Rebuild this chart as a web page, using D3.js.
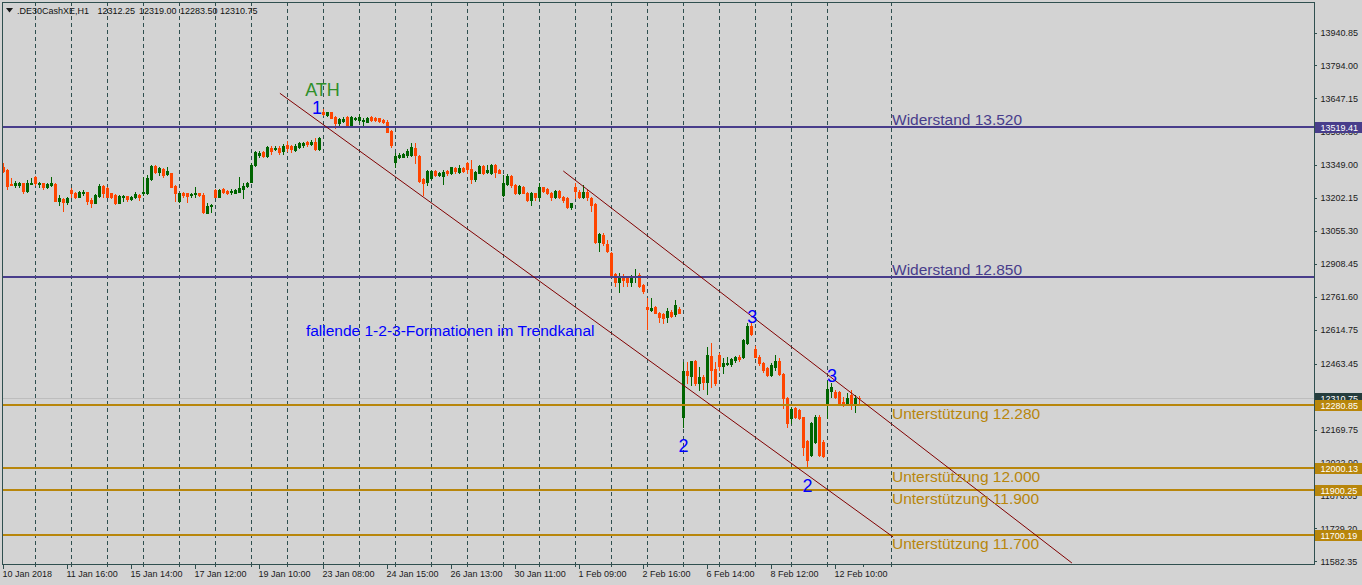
<!DOCTYPE html>
<html><head><meta charset="utf-8">
<script src="https://cdn.jsdelivr.net/npm/d3@7/dist/d3.min.js"></script>
<style>
html,body{margin:0;padding:0;background:#d3d3d3;overflow:hidden}
svg{display:block}
text{font-family:"Liberation Sans",Arial,sans-serif}
</style></head><body>
<svg id="c" width="1362" height="585"></svg>
<script>
// ---------- DATA ----------
const symbolInfo = ".DE30CashXE,H1";
const headerValues = ["12312.25","12319.00","12283.50","12310.75"];

const open = [
13342.3,13327.6,13263.8,13259.4,13259.4,13268.3,13235.3,13266.5,13295.0,13263.8,
13268.3,13250.5,13259.4,13265.2,13190.7,13199.6,13183.5,13238.4,13226.4,13208.5,
13223.7,13228.2,13193.8,13181.8,13213.0,13256.2,13246.0,13223.7,13216.1,13181.8,
13208.5,13211.7,13196.9,13205.9,13216.1,13223.7,13223.7,13286.1,13345.4,13320.0,
13332.1,13309.8,13312.8,13256.2,13190.7,13226.4,13223.7,13214.9,13219.2,13223.7,
13216.1,13137.2,13167.0,13238.4,13208.5,13241.5,13235.3,13228.2,13226.4,13230.8,
13242.9,13256.2,13275.4,13350.0,13394.5,13406.5,13391.4,13427.1,13421.3,13427.1,
13412.3,13439.1,13436.0,13416.8,13431.5,13439.1,13451.2,13443.6,13453.8,13421.3,
13584.9,13572.9,13584.9,13565.3,13535.9,13547.5,13565.3,13528.3,13555.0,13550.6,
13547.5,13543.0,13565.3,13560.9,13558.2,13550.6,13543.0,13501.5,13364.6,13386.9,
13386.9,13393.1,13394.5,13424.4,13390.0,13286.1,13275.4,13290.6,13323.1,13305.3,
13300.8,13324.5,13312.8,13337.9,13320.0,13335.2,13360.2,13330.7,13286.1,13315.6,
13345.4,13320.0,13315.6,13350.0,13327.6,13216.1,13265.2,13300.8,13260.7,13223.7,
13253.1,13226.4,13193.8,13223.7,13205.9,13250.5,13241.5,13226.4,13205.9,13233.9,
13208.5,13201.4,13161.3,13250.5,13230.8,13205.9,13230.8,13201.4,13175.9,13007.8,
13037.7,12997.6,12958.8,12863.8,12829.4,12844.6,12844.6,12829.4,12848.9,12859.3,
12814.7,12715.2,12703.2,12717.9,12691.2,12685.4,12671.5,12695.6,12685.4,12706.3,
12224.6,12432.5,12408.8,12475.7,12376.3,12405.7,12383.4,12498.0,12438.7,12502.5,
12453.4,12461.0,12461.0,12480.2,12492.2,12492.2,12554.7,12632.0,12527.9,12494.9,
12468.2,12443.2,12413.3,12450.5,12477.1,12417.8,12309.4,12220.2,12264.8,12257.2,
12224.6,12120.3,12056.5,12115.8,12227.3,12115.8,12279.5,12343.3,12338.8,12338.8,
12294.2,12284.0,12324.1,12284.0,12312.25];

const high = [
13357.5,13332.1,13290.6,13279.9,13275.4,13271.0,13283.0,13290.6,13300.8,13275.4,
13271.0,13268.3,13297.7,13268.3,13216.1,13204.1,13208.5,13246.0,13230.8,13235.3,
13238.4,13230.8,13201.4,13219.2,13265.2,13260.7,13250.5,13226.4,13220.6,13216.1,
13216.1,13213.0,13211.7,13230.8,13219.2,13297.7,13305.3,13350.0,13351.3,13342.3,
13335.2,13339.7,13315.6,13260.7,13226.4,13230.8,13226.4,13226.4,13250.5,13226.4,
13223.7,13179.1,13175.9,13241.5,13241.5,13246.0,13238.4,13241.5,13241.5,13295.0,
13268.3,13272.7,13357.5,13412.3,13412.3,13412.3,13436.0,13436.0,13436.0,13436.0,
13442.2,13457.0,13439.1,13442.2,13451.2,13453.8,13457.0,13461.4,13469.0,13473.4,
13598.3,13587.6,13587.6,13569.8,13558.2,13565.3,13569.8,13569.8,13565.3,13576.0,
13560.9,13565.3,13569.8,13565.3,13560.9,13555.0,13550.6,13506.0,13404.8,13404.8,
13402.0,13419.9,13446.7,13446.7,13394.5,13290.6,13327.6,13327.6,13327.6,13320.0,
13327.6,13327.6,13342.3,13342.3,13350.0,13342.3,13364.6,13372.2,13324.5,13350.0,
13350.0,13350.0,13354.4,13354.4,13330.7,13305.3,13309.8,13305.3,13265.2,13260.7,
13256.2,13230.8,13230.8,13226.4,13268.3,13253.1,13246.0,13230.8,13238.4,13238.4,
13211.7,13205.9,13181.8,13268.3,13238.4,13260.7,13238.4,13208.5,13179.1,13048.0,
13045.3,13015.4,12963.2,12866.9,12866.9,12863.8,12854.8,12859.3,12884.7,12869.6,
12819.2,12755.4,12755.4,12721.0,12695.6,12691.2,12710.8,12703.2,12747.8,12717.9,
12472.6,12472.6,12477.1,12480.2,12450.5,12413.3,12539.5,12554.7,12472.6,12510.1,
12487.8,12494.9,12487.8,12498.0,12502.5,12572.5,12643.9,12651.0,12542.6,12502.5,
12472.6,12450.5,12465.5,12502.5,12487.8,12420.9,12316.5,12269.3,12269.3,12260.3,
12227.3,12123.4,12205.0,12235.0,12235.0,12123.4,12391.0,12379.0,12346.4,12343.3,
12316.5,12331.7,12346.4,12324.1,12319.0];

const low = [
13320.0,13241.6,13259.4,13250.5,13253.1,13223.7,13230.8,13265.2,13260.7,13250.5,
13242.9,13248.7,13256.2,13188.4,13171.5,13146.1,13175.9,13208.5,13204.1,13205.9,
13216.1,13175.9,13164.3,13179.1,13208.5,13208.5,13205.9,13201.4,13175.9,13179.1,
13190.7,13190.7,13193.8,13201.4,13193.8,13216.1,13220.6,13283.0,13315.6,13305.3,
13297.7,13305.3,13250.5,13190.7,13186.2,13208.5,13183.5,13208.5,13208.5,13213.0,
13134.5,13134.5,13141.6,13205.9,13205.9,13226.4,13220.6,13219.2,13223.7,13228.2,
13201.4,13250.5,13272.7,13345.4,13386.9,13386.9,13386.9,13397.1,13416.8,13397.1,
13397.1,13412.3,13406.5,13412.3,13427.1,13431.5,13436.0,13439.1,13416.8,13416.8,
13572.9,13569.8,13558.2,13513.6,13528.3,13543.0,13520.7,13525.2,13550.6,13543.0,
13528.3,13540.4,13546.1,13546.1,13540.4,13535.9,13495.7,13431.5,13342.3,13379.7,
13384.2,13386.9,13390.0,13357.5,13275.4,13216.1,13260.7,13286.1,13300.8,13300.8,
13265.2,13305.3,13309.8,13315.6,13312.8,13320.0,13312.8,13268.3,13279.9,13312.8,
13309.8,13315.6,13309.8,13295.0,13312.8,13211.7,13260.7,13253.1,13220.6,13220.6,
13223.7,13190.7,13171.5,13193.8,13193.8,13230.8,13220.6,13193.8,13201.4,13201.4,
13186.2,13156.7,13155.0,13201.4,13201.4,13201.4,13193.8,13146.1,13003.4,12967.7,
12993.1,12963.2,12854.8,12810.2,12784.8,12810.2,12810.2,12810.2,12829.4,12807.1,
12777.7,12618.5,12700.1,12688.5,12651.0,12643.9,12651.0,12673.3,12676.4,12688.5,
12182.7,12376.3,12368.7,12368.7,12346.4,12349.5,12328.6,12361.1,12368.7,12435.6,
12423.6,12457.9,12453.4,12472.6,12477.1,12487.8,12551.5,12591.7,12492.2,12457.9,
12428.0,12408.8,12408.8,12435.6,12413.3,12264.8,12182.7,12197.9,12220.2,12215.7,
12056.5,12004.3,12052.0,12108.7,12052.0,12049.0,12220.2,12316.5,12309.4,12279.5,
12275.0,12279.5,12260.3,12249.6,12283.5];

const close = [
13324.5,13257.6,13259.4,13268.3,13268.3,13235.3,13271.0,13269.6,13268.3,13269.6,
13250.5,13263.8,13268.3,13190.7,13201.4,13186.2,13201.4,13223.7,13208.5,13230.8,
13229.5,13190.7,13181.8,13216.1,13256.2,13226.4,13208.5,13208.5,13181.8,13211.7,
13213.0,13196.9,13208.5,13219.2,13205.9,13230.8,13293.2,13345.4,13320.0,13335.2,
13305.3,13324.5,13253.1,13226.4,13223.7,13216.1,13211.7,13220.6,13226.4,13216.1,
13138.9,13167.0,13171.5,13208.5,13238.4,13230.8,13223.7,13232.6,13237.1,13246.0,
13256.2,13268.3,13350.0,13406.5,13402.0,13391.4,13431.5,13412.3,13427.1,13409.2,
13436.0,13424.4,13421.3,13436.0,13446.7,13446.7,13442.2,13453.8,13421.3,13469.0,
13576.0,13584.9,13560.9,13535.9,13553.7,13553.7,13528.3,13565.3,13560.9,13565.3,
13550.6,13560.9,13550.6,13550.6,13547.5,13543.0,13498.4,13439.1,13390.0,13394.5,
13399.0,13413.7,13428.9,13394.5,13279.9,13271.0,13323.1,13323.1,13305.3,13312.8,
13320.0,13312.8,13339.7,13323.1,13335.2,13323.1,13330.7,13286.1,13320.0,13345.4,
13315.6,13327.6,13350.0,13320.0,13315.6,13271.0,13300.8,13260.7,13223.7,13256.2,
13226.4,13193.8,13226.4,13205.9,13250.5,13235.3,13223.7,13208.5,13233.9,13205.9,
13193.8,13164.3,13179.1,13235.3,13205.9,13230.8,13208.5,13171.5,13007.8,13042.2,
13000.7,12967.7,12859.3,12829.4,12844.6,12837.0,12829.4,12851.7,12854.8,12810.2,
12789.3,12706.3,12713.5,12691.2,12673.3,12666.2,12700.1,12676.4,12725.5,12691.2,
12432.5,12413.3,12475.7,12376.3,12403.0,12383.4,12502.5,12435.6,12376.3,12453.4,
12465.5,12465.5,12483.3,12492.2,12483.3,12569.4,12632.0,12596.2,12494.9,12465.5,
12435.6,12413.3,12457.9,12477.1,12417.8,12309.4,12197.9,12260.3,12227.3,12220.2,
12093.5,12034.2,12200.6,12227.3,12056.5,12052.0,12352.2,12358.8,12316.5,12287.1,
12287.1,12309.4,12287.1,12312.1,12310.75];

const priceTicks = [13940.85,13794.00,13647.15,13500.30,13349.00,13202.15,13055.30,12908.45,
  12761.60,12614.75,12463.45,12316.75,12169.75,12022.90,11876.05,11729.20,11582.35];

const timeLabels = ["10 Jan 2018","11 Jan 16:00","15 Jan 14:00","17 Jan 12:00","19 Jan 10:00",
  "23 Jan 08:00","24 Jan 15:00","26 Jan 13:00","30 Jan 11:00","1 Feb 09:00","2 Feb 16:00",
  "6 Feb 14:00","8 Feb 12:00","12 Feb 10:00"];
const barsPerLabel = 16;
const barsPerGrid = 9;

const levelPrices = [13519.41, 12850.00, 12280.85, 12000.13, 11900.25, 11700.19];
const levelNames  = ["Widerstand 13.520","Widerstand 12.850","Unterstützung 12.280",
  "Unterstützung 12.000","Unterstützung 11.900","Unterstützung 11.700"];
const levelKinds  = ["res","res","sup","sup","sup","sup"];
const levelTagged = [true,false,true,true,true,true];
const bidPrice = 12310.75;

// trend channel: [bar index, price]
const trendLower = [[69.1,13669.7],[222.4,11690.8]];
const trendUpper = [[139.95,13323.1],[267.1,11574.8]];

// annotations: text, bar (center), price (baseline)
const annoText  = ["ATH","1","2","3","3","2"];
const annoBar   = [79.75,78.4,170.0,187.2,207.1,201.0];
const annoPrice = [13657.6,13577.4,12071.3,12646.1,12383.4,11891.5];
const annoColor = ["#2f8f2a","#0000ff","#0000ff","#0000ff","#0000ff","#0000ff"];
const noteText = "fallende 1-2-3-Formationen im Trendkanal";
const noteBar = 75.6, notePrice = 12587.2;

// ---------- DRAW ----------
const W = 1362, H = 585;
const L = 2, T = 2, R = 1314, B = 564;
const svg = d3.select("#c");
const n = open.length;

const x = d3.scaleLinear().domain([0, n - 1]).range([3.5, 3.5 + 4 * (n - 1)]);
const y = d3.scaleLinear().domain([11582.35, 13940.85]).range([561.3, 32.5]);

svg.append("rect").attr("width", W).attr("height", H).attr("fill", "#d3d3d3");

svg.append("defs").append("clipPath").attr("id", "plot")
  .append("rect").attr("x", L + 1).attr("y", T + 1).attr("width", R - L - 1).attr("height", B - T - 1);

const plot = svg.append("g").attr("clip-path", "url(#plot)");

// vertical grid
const gridBars = d3.range(8, n, barsPerGrid).concat([222]);
plot.append("g").selectAll("line").data(gridBars).join("line")
  .attr("x1", d => x(d)).attr("x2", d => x(d))
  .attr("y1", T).attr("y2", B)
  .attr("stroke", "#2f4f4f").attr("stroke-width", 1)
  .attr("stroke-dasharray", "4,3").attr("shape-rendering", "crispEdges");

// bid line
plot.append("line").attr("x1", L).attr("x2", R)
  .attr("y1", Math.round(y(bidPrice)) + 0.5).attr("y2", Math.round(y(bidPrice)) + 0.5)
  .attr("stroke", "#bdbdbd").attr("stroke-width", 1).attr("shape-rendering", "crispEdges");

// candles
const idx = d3.range(n);
const up = i => close[i] >= open[i];
const cg = plot.append("g").attr("shape-rendering", "crispEdges");
cg.selectAll("rect.w").data(idx).join("rect").attr("class", "w")
  .attr("x", i => x(i) - 0.5).attr("width", 1)
  .attr("y", i => Math.round(y(high[i])))
  .attr("height", i => Math.max(1, Math.round(y(low[i])) - Math.round(y(high[i])) + 1))
  .attr("fill", i => up(i) ? "#006400" : "#ff4500");
cg.selectAll("rect.b").data(idx).join("rect").attr("class", "b")
  .attr("x", i => x(i) - 1.5).attr("width", 3)
  .attr("y", i => Math.round(y(Math.max(open[i], close[i]))))
  .attr("height", i => Math.max(1, Math.round(y(Math.min(open[i], close[i]))) - Math.round(y(Math.max(open[i], close[i]))) + 1))
  .attr("fill", i => up(i) ? "#006400" : "#ff4500");

// horizontal levels
const lv = d3.range(levelPrices.length);
plot.append("g").selectAll("line").data(lv).join("line")
  .attr("x1", L).attr("x2", R)
  .attr("y1", i => Math.round(y(levelPrices[i]))).attr("y2", i => Math.round(y(levelPrices[i])))
  .attr("stroke", i => levelKinds[i] === "res" ? "#483d8b" : "#b8860b")
  .attr("stroke-width", 2).attr("shape-rendering", "crispEdges");

// trend lines
const line = d3.line().x(d => x(d[0])).y(d => y(d[1]));
[trendLower, trendUpper].forEach(t => {
  plot.append("path").attr("d", line(t)).attr("fill", "none")
    .attr("stroke", "#800000").attr("stroke-width", 1);
});

// level labels
plot.append("g").selectAll("text").data(lv).join("text")
  .attr("x", x(222) + 0.5)
  .attr("y", i => Math.round(y(levelPrices[i])) + (levelKinds[i] === "res" ? -2 : 14))
  .attr("font-size", "15.5px")
  .attr("fill", i => levelKinds[i] === "res" ? "#483d8b" : "#b8860b")
  .text(i => levelNames[i]);

// annotations
plot.append("g").selectAll("text").data(annoText).join("text")
  .attr("x", (d, i) => x(annoBar[i])).attr("y", (d, i) => y(annoPrice[i]))
  .attr("text-anchor", "middle").attr("font-size", "18px")
  .attr("fill", (d, i) => annoColor[i]).text(d => d);

plot.append("text").attr("x", x(noteBar)).attr("y", y(notePrice))
  .attr("font-size", "15.5px").attr("fill", "#0000ff").text(noteText);

// frame
svg.append("path")
  .attr("d", `M${L + 0.5},${B + 0.5}V${T + 0.5}H${R + 0.5}V${B + 0.5}H${L + 0.5}`)
  .attr("fill", "none").attr("stroke", "#2f4f4f").attr("stroke-width", 1)
  .attr("shape-rendering", "crispEdges");

// header
svg.append("path").attr("d", "M6,8H13L9.5,12.5Z").attr("fill", "#1a1a1a");
svg.append("text").attr("x", 17).attr("y", 14).attr("font-size", "9px").attr("fill", "#111").text(symbolInfo);
const hx = [97.5, 139, 180, 220];
svg.append("g").selectAll("text").data(headerValues).join("text")
  .attr("x", (d, i) => hx[i]).attr("y", 14).attr("font-size", "9px").attr("fill", "#111").text(d => d);

// price axis
const pa = svg.append("g");
pa.selectAll("line").data(priceTicks).join("line")
  .attr("x1", R).attr("x2", R + 3)
  .attr("y1", d => Math.round(y(d)) + 0.5).attr("y2", d => Math.round(y(d)) + 0.5)
  .attr("stroke", "#2f4f4f").attr("shape-rendering", "crispEdges");
pa.selectAll("text").data(priceTicks).join("text")
  .attr("x", R + 6.5).attr("y", d => y(d) + 3.3)
  .attr("font-size", "9px").attr("fill", "#1a1a1a")
  .text(d => d.toFixed(2));

// tag boxes
function tag(price, color) {
  const yy = Math.round(y(price));
  pa.append("rect").attr("x", R + 1).attr("y", yy - 5).attr("width", W - R - 1).attr("height", 11)
    .attr("fill", color).attr("shape-rendering", "crispEdges");
  pa.append("text").attr("x", R + 6.5).attr("y", yy + 4)
    .attr("font-size", "9px").attr("fill", "#ffffff").text(price.toFixed(2));
}
tag(bidPrice, "#243c3c");
lv.filter(i => levelTagged[i]).forEach(i => tag(levelPrices[i], levelKinds[i] === "res" ? "#483d8b" : "#b8860b"));

// time axis
const ta = svg.append("g");
const gridTickBars = d3.range(8, n + 9, barsPerGrid).concat([222]);
ta.selectAll("line.g").data(gridTickBars).join("line").attr("class", "g")
  .attr("x1", d => x(d)).attr("x2", d => x(d)).attr("y1", B).attr("y2", B + 3)
  .attr("stroke", "#2f4f4f").attr("shape-rendering", "crispEdges");
const labelBars = timeLabels.map((d, k) => k * barsPerLabel);
ta.selectAll("line.m").data(labelBars).join("line").attr("class", "m")
  .attr("x1", d => x(d)).attr("x2", d => x(d)).attr("y1", B).attr("y2", B + 5)
  .attr("stroke", "#2f4f4f").attr("shape-rendering", "crispEdges");
ta.selectAll("text").data(timeLabels).join("text")
  .attr("x", (d, k) => x(labelBars[k]) - 1).attr("y", 577)
  .attr("font-size", "9px").attr("fill", "#1a1a1a").text(d => d);
</script>
</body></html>
